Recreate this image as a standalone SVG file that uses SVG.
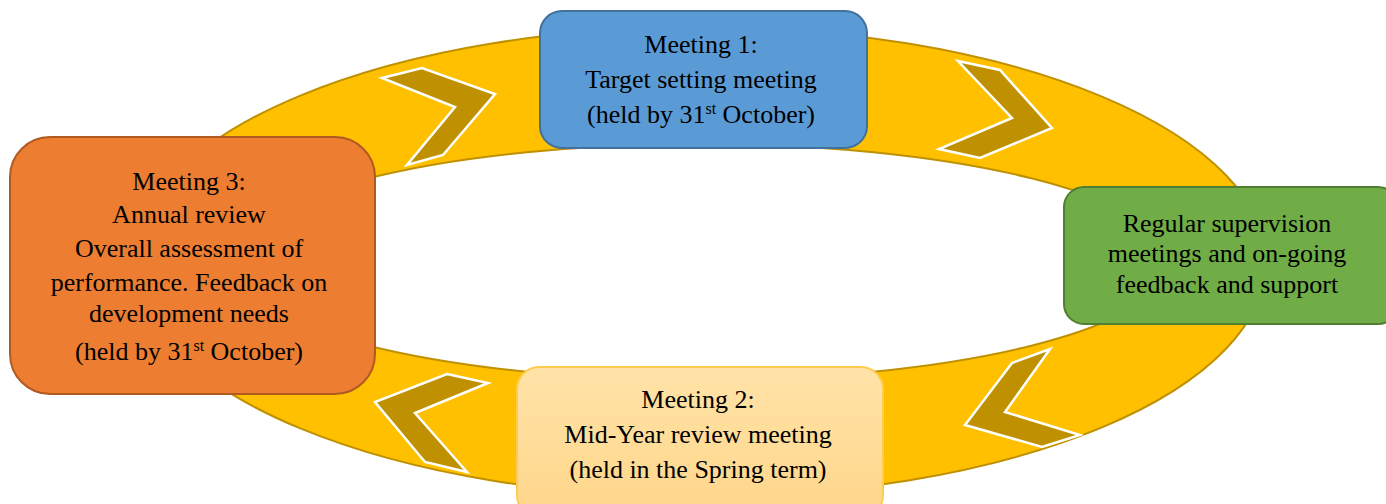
<svg xmlns="http://www.w3.org/2000/svg" width="1386" height="504" viewBox="0 0 1386 504">
<defs>
<linearGradient id="peach" x1="0" y1="0" x2="0" y2="1">
<stop offset="0" stop-color="#FFE3A8"/>
<stop offset="1" stop-color="#FFD68A"/>
</linearGradient>
</defs>
<style>
text{font-family:'Liberation Serif','Times New Roman',serif;font-size:26px;fill:#000000;text-anchor:middle}
.sup{font-size:16px}
.chev{fill:#BF9000;stroke:#FFFFFF;stroke-width:2.5;stroke-linejoin:miter}
</style>
<rect width="1386" height="504" fill="#FFFFFF"/>
<g id="connectors">
<path d="M 134 262 A 566 235 0 1 0 1266 262 A 566 235 0 1 0 134 262 Z M 230 262 A 470 118 0 1 1 1170 262 A 470 118 0 1 1 230 262 Z" fill="#FFC000" fill-rule="evenodd" stroke="#BF9000" stroke-width="2"/>
<polygon class="chev" points="382,78 422,68 495,94 443,155 407,165 455,107"/>
<polygon class="chev" points="958,61 1000,70 1052,128 980,158 939,149 1012,118"/>
<polygon class="chev" points="1050,349 1012,363 965,425 1042,447 1080,435 1005,412"/>
<polygon class="chev" points="447,374 488,383 415,413 467,472 425,462 375,402"/>
</g>
<g id="meeting1">
<rect x="540" y="11" width="327" height="137" rx="22" fill="#5B9BD5" stroke="#41719C" stroke-width="2"/>
<text x="701" y="53">Meeting 1:</text>
<text x="701" y="88">Target setting meeting</text>
<text x="701" y="123">(held by 31<tspan class="sup" dy="-9">st</tspan><tspan dy="9"> October)</tspan></text>
</g>
<g id="supervision">
<rect x="1064" y="187" width="334" height="137" rx="20" fill="#70AD47" stroke="#507E32" stroke-width="2"/>
<text x="1227" y="232">Regular supervision</text>
<text x="1227" y="262">meetings and on-going</text>
<text x="1227" y="293">feedback and support</text>
</g>
<g id="meeting2">
<rect x="517" y="367" width="366" height="150" rx="22" fill="url(#peach)" stroke="#FFCC4D" stroke-width="2"/>
<text x="698" y="408">Meeting 2:</text>
<text x="698" y="443">Mid-Year review meeting</text>
<text x="698" y="478">(held in the Spring term)</text>
</g>
<g id="meeting3">
<rect x="10" y="137" width="365" height="257" rx="40" fill="#ED7D31" stroke="#AE5A21" stroke-width="2"/>
<text x="189" y="190">Meeting 3:</text>
<text x="189" y="223">Annual review</text>
<text x="189" y="257">Overall assessment of</text>
<text x="189" y="291">performance. Feedback on</text>
<text x="189" y="322">development needs</text>
<text x="189" y="360">(held by 31<tspan class="sup" dy="-9">st</tspan><tspan dy="9"> October)</tspan></text>
</g>
</svg>
